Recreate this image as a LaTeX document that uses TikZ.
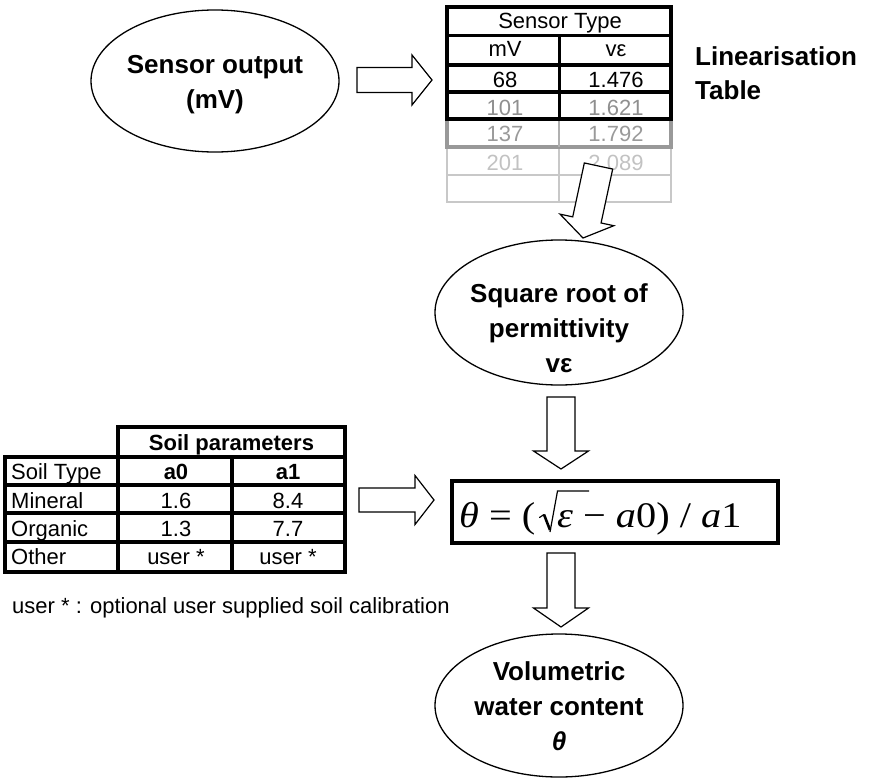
\documentclass[tikz,border=0pt]{standalone}
\usepackage{fontspec}
\setmainfont{Liberation Sans}
\newfontfamily\fserif{Liberation Serif}
\usetikzlibrary{shapes.geometric,calc}
\definecolor{tgA}{HTML}{8F8F8F}
\definecolor{tgB}{HTML}{9A9A9A}
\definecolor{tgC}{HTML}{C2C2C2}
\definecolor{lnB}{HTML}{999999}
\definecolor{lnM}{HTML}{B0B0B0}
\definecolor{lnC}{HTML}{C8C8C8}
\tikzset{
  oval/.style={ellipse, draw, line width=1.3pt, minimum width=248pt, minimum height=143pt, inner sep=0pt},
  ovaltext/.style={align=center, font=\fontsize{26}{35}\selectfont\bfseries, inner sep=0pt},
  barrow/.style={draw, fill=white, line width=1.2pt, line join=miter},
  cell/.style={anchor=base, inner sep=0pt, font=\fontsize{22}{26}\selectfont},
  bcell/.style={cell, font=\fontsize{22}{26}\selectfont\bfseries},
  lcell/.style={cell, anchor=base west},
  ftext/.style={anchor=base west, inner sep=0pt, font=\fserif\fontsize{36}{42}\selectfont},
}
\newcommand\blockarrow[5]{%
  \coordinate (bah) at ($(#2)!#5!(#1)$);
  \draw[barrow] ($(#1)!#3!90:(#2)$) -- ($(bah)!#3!90:(#2)$) -- ($(bah)!#4!90:(#2)$) -- (#2)
    -- ($(bah)!#4!-90:(#2)$) -- ($(bah)!#3!-90:(#2)$) -- ($(#1)!#3!-90:(#2)$) -- cycle;}
\begin{document}
\begin{tikzpicture}[x=1pt,y=-1pt]
\useasboundingbox (0,0) rectangle (872,779);

% Sensor output
\node[oval, minimum height=142pt] (sensor) at (215,81) {};
\node[ovaltext] (sensor-t) at (215,85) {Sensor output\\(mV)};

% Linearisation table
\draw[lnC, line width=2.8pt] (447,147) -- (447,202) -- (671,202) -- (671,147);
\draw[lnC, line width=2.8pt] (447,175) -- (671,175) (559,147) -- (559,202);
\draw[lnB, line width=3.5pt] (447,119) -- (447,147) -- (671,147) -- (671,119);
\draw[lnM, line width=2.5pt] (559,119) -- (559,147);
\draw[line width=3.8pt] (447,7) rectangle (671,119);
\draw[line width=3pt] (447,35) -- (671,35);
\draw[line width=3.8pt] (447,65) -- (671,65) (447,92) -- (671,92);
\draw[line width=3pt] (559,35) -- (559,119);

\node[cell] (lt-h) at (560,28.3) {Sensor Type};
\node[cell] (lt-mv) at (505,56.7) {mV};
\node[cell] (lt-ve) at (616,56.7) {vε};
\node[cell] (lt-1a) at (505,87.3) {68};
\node[cell] (lt-1b) at (616,87.3) {1.476};
\node[cell, text=tgA] (lt-2a) at (505,115) {101};
\node[cell, text=tgA] (lt-2b) at (616,115) {1.621};
\node[cell, text=tgB] (lt-3a) at (505,141.7) {137};
\node[cell, text=tgB] (lt-3b) at (616,141.7) {1.792};
\node[cell, text=tgC] (lt-4a) at (505,170) {201};
\node[cell, text=tgC] (lt-4b) at (616,170) {2.089};

\node[anchor=west, align=left, inner sep=0pt, font=\fontsize{26}{34}\selectfont\bfseries] (lintitle) at (695,73.5) {Linearisation\\Table};

% Square root of permittivity
\node[oval, minimum height=145pt] (sqroot) at (559,312.5) {};
\node[ovaltext] (sqroot-t) at (559,328) {Square root of\\permittivity\\vε};

% Formula
\node[draw, line width=4pt, minimum width=326pt, minimum height=62pt, inner sep=0pt] (fbox) at (615,512) {};
\node[ftext] (fl) at (459,527) {\scalebox{1.12}[1]{\textit{θ} = (}};
\node[ftext] (fr) at (557,527) {\scalebox{1.12}[1]{\textit{ε} − \textit{a}0) / \textit{a}1}};
\draw[line width=1.2pt, line cap=round] (539.5,517.5) -- (544,514.5);
\draw[line width=2.6pt] (544,514.5) -- (550,530);
\draw[line width=1.2pt, line join=miter] (550,532) -- (557.5,491) -- (589,491);

% Volumetric water content
\node[oval, minimum height=143pt] (vwc) at (559,705.5) {};
\node[ovaltext] (vwc-t) at (559,706) {Volumetric\\water content\\\textit{θ}};

% Soil parameters table
\draw[line width=3.8pt] (118,427) -- (345,427) -- (345,572) -- (5,572) -- (5,457) -- (118,457) -- cycle;
\draw[line width=3.8pt] (5,457) -- (345,457) (118,427) -- (118,572);
\draw[line width=3.2pt] (232,457) -- (232,572) (5,485) -- (345,485) (5,513) -- (345,513) (5,542) -- (345,542);

\node[bcell] (st-h) at (231.5,450) {Soil parameters};
\node[lcell] (st-r1) at (11,479.3) {Soil Type};
\node[bcell] (st-a0) at (176,479.3) {a0};
\node[bcell] (st-a1) at (288,479.3) {a1};
\node[lcell] (st-r2) at (11,508.3) {Mineral};
\node[cell] (st-m0) at (176,508.3) {1.6};
\node[cell] (st-m1) at (288,508.3) {8.4};
\node[lcell] (st-r3) at (11,536) {Organic};
\node[cell] (st-o0) at (176,536) {1.3};
\node[cell] (st-o1) at (288,536) {7.7};
\node[lcell] (st-r4) at (11,564) {Other};
\node[cell] (st-u0) at (176,564) {user *};
\node[cell] (st-u1) at (288,564) {user *};

\node[lcell] (note) at (12,613) {user * : optional user supplied soil calibration};

% Block arrows
\coordinate (a1s) at (357,80);   \coordinate (a1e) at (432,80);
\coordinate (a2s) at (598.5,166); \coordinate (a2e) at (583,238);
\coordinate (a3s) at (561,397);  \coordinate (a3e) at (561,469);
\coordinate (a4s) at (359,500);  \coordinate (a4e) at (434,500);
\coordinate (a5s) at (561,553);  \coordinate (a5e) at (561,627);
\blockarrow{a1s}{a1e}{12.5pt}{25pt}{20pt}
\blockarrow{a2s}{a2e}{14.5pt}{27.5pt}{18.5pt}
\blockarrow{a3s}{a3e}{14pt}{27.5pt}{18pt}
\blockarrow{a4s}{a4e}{12pt}{24.5pt}{19pt}
\blockarrow{a5s}{a5e}{14pt}{27.5pt}{19pt}
\end{tikzpicture}
\end{document}
